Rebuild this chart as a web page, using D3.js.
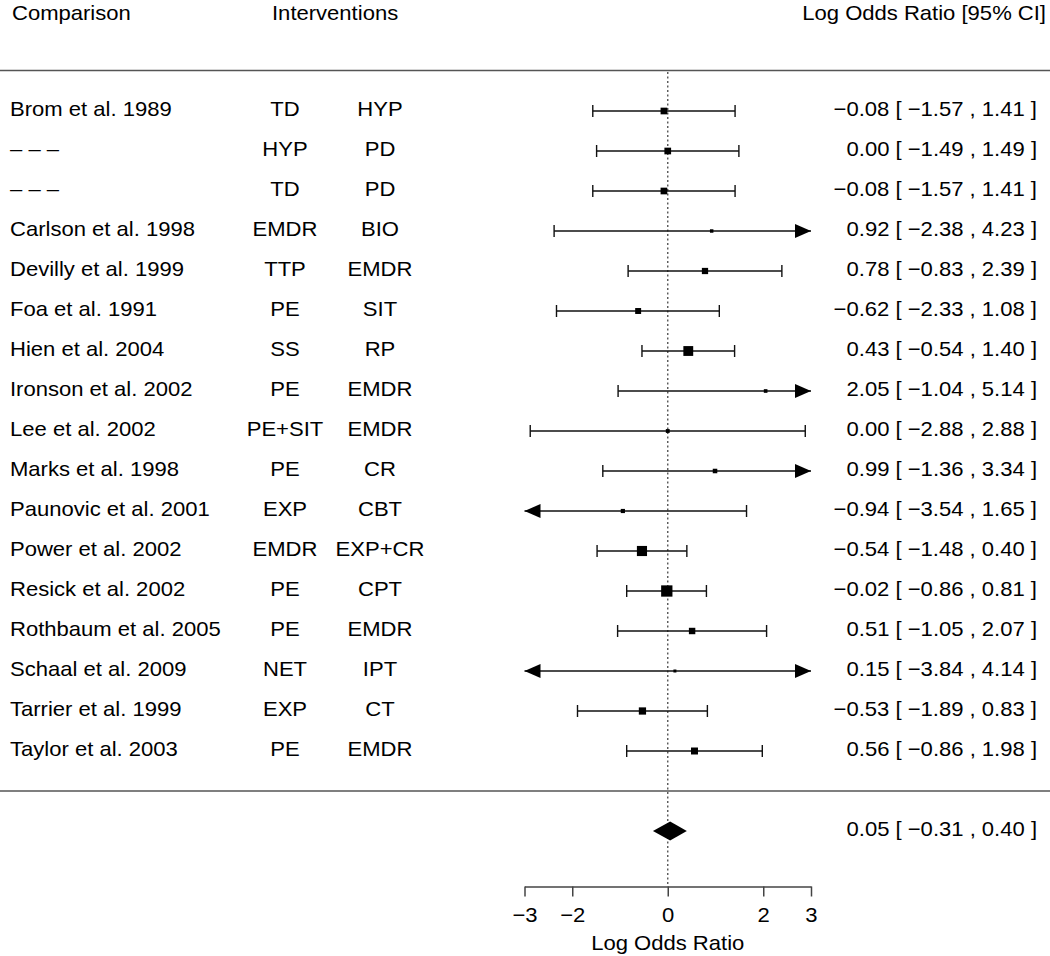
<!DOCTYPE html>
<html>
<head>
<meta charset="utf-8">
<script src="https://cdn.jsdelivr.net/npm/d3@7"></script>
<style>
  html, body { margin: 0; padding: 0; background: #fff; }
  svg { display: block; }
  text { font-family: "Liberation Sans", Arial, Helvetica, sans-serif; fill: #000; }
</style>
</head>
<body>
<svg id="chart" width="1050" height="956"></svg>
<script>
const studies = ["Brom et al. 1989","\u2013 \u2013 \u2013","\u2013 \u2013 \u2013","Carlson et al. 1998","Devilly et al. 1999","Foa et al. 1991","Hien et al. 2004","Ironson et al. 2002","Lee et al. 2002","Marks et al. 1998","Paunovic et al. 2001","Power et al. 2002","Resick et al. 2002","Rothbaum et al. 2005","Schaal et al. 2009","Tarrier et al. 1999","Taylor et al. 2003"];
const treat1 = ["TD","HYP","TD","EMDR","TTP","PE","SS","PE","PE+SIT","PE","EXP","EMDR","PE","PE","NET","EXP","PE"];
const treat2 = ["HYP","PD","PD","BIO","EMDR","SIT","RP","EMDR","EMDR","CR","CBT","EXP+CR","CPT","EMDR","IPT","CT","EMDR"];
const estimates = [-0.08,0.00,-0.08,0.92,0.78,-0.62,0.43,2.05,0.00,0.99,-0.94,-0.54,-0.02,0.51,0.15,-0.53,0.56];
const lowerCI = [-1.57,-1.49,-1.57,-2.38,-0.83,-2.33,-0.54,-1.04,-2.88,-1.36,-3.54,-1.48,-0.86,-1.05,-3.84,-1.89,-0.86];
const upperCI = [1.41,1.49,1.41,4.23,2.39,1.08,1.40,5.14,2.88,3.34,1.65,0.40,0.81,2.07,4.14,0.83,1.98];
const summaryEst = 0.05, summaryLower = -0.31, summaryUpper = 0.40;
const xTicks = [-3,-2,0,2,3];
const headers = ["Comparison","Interventions","Log Odds Ratio [95% CI]"];
const axisTitle = "Log Odds Ratio";

const svg = d3.select("#chart");
const FS = 21, SX = 1.05;
const x = d3.scaleLinear().domain([-3,3]).range([524.5, 811]);
const y = d3.scaleLinear().domain([0, studies.length-1]).range([111, 751]);
const ySummary = 831;
const fmt = v => (v < 0 ? "\u2212" : "") + Math.abs(v).toFixed(2);
const ciText = (e,l,u) => `${fmt(e)} [ ${fmt(l)} , ${fmt(u)} ]`;
const LC = "#111", LW = 1.4;

function addText(g, str, tx, ty, anchor) {
  g.append("text")
    .attr("transform", `translate(${tx},${ty}) scale(${SX},1)`)
    .attr("text-anchor", anchor)
    .style("font-size", FS + "px")
    .text(str);
}

// headers
addText(svg, headers[0], 12, 20, "start");
addText(svg, headers[1], 272, 20, "start");
addText(svg, headers[2], 1046, 20, "end");

// separator lines
svg.append("line").attr("x1",0).attr("x2",1050).attr("y1",70.5).attr("y2",70.5)
  .attr("stroke","#555").attr("stroke-width",1.5);
svg.append("line").attr("x1",0).attr("x2",1050).attr("y1",791).attr("y2",791)
  .attr("stroke","#555").attr("stroke-width",1.5);

// reference line at 0
svg.append("line").attr("x1",x(0)).attr("x2",x(0)).attr("y1",72).attr("y2",886)
  .attr("stroke","#555").attr("stroke-width",1.4).attr("stroke-dasharray","2,2.5");

// weights for squares
const wts = lowerCI.map((l,i) => 3.92/(upperCI[i]-l));
const wMin = d3.min(wts), wMax = d3.max(wts);
const sizeScale = d3.scaleLinear().domain([wMin, wMax]).range([3, 11.3]);

const rows = studies.map((s,i) => ({s, t1: treat1[i], t2: treat2[i], e: estimates[i], l: lowerCI[i], u: upperCI[i], w: wts[i], i}));
const [dMin, dMax] = x.domain();

rows.forEach(r => {
  const g = svg.append("g");
  const yy = y(r.i);
  const lo = Math.max(r.l, dMin), hi = Math.min(r.u, dMax);
  g.append("line").attr("x1", x(lo)).attr("x2", x(hi)).attr("y1", yy).attr("y2", yy)
    .attr("stroke",LC).attr("stroke-width",LW);
  if (r.l < dMin) {
    g.append("path").attr("d", `M${x(dMin)},${yy} L${x(dMin)+16},${yy-7} L${x(dMin)+16},${yy+7} Z`).attr("fill","#000");
  } else {
    g.append("line").attr("x1", x(r.l)).attr("x2", x(r.l)).attr("y1", yy-6).attr("y2", yy+6)
      .attr("stroke",LC).attr("stroke-width",LW);
  }
  if (r.u > dMax) {
    g.append("path").attr("d", `M${x(dMax)},${yy} L${x(dMax)-16},${yy-7} L${x(dMax)-16},${yy+7} Z`).attr("fill","#000");
  } else {
    g.append("line").attr("x1", x(r.u)).attr("x2", x(r.u)).attr("y1", yy-6).attr("y2", yy+6)
      .attr("stroke",LC).attr("stroke-width",LW);
  }
  const sz = sizeScale(r.w);
  g.append("rect").attr("x", x(r.e)-sz/2).attr("y", yy-sz/2).attr("width", sz).attr("height", sz).attr("fill","#000");

  addText(g, r.s, 10, yy+5, "start");
  addText(g, r.t1, 285, yy+5, "middle");
  addText(g, r.t2, 380, yy+5, "middle");
  addText(g, ciText(r.e, r.l, r.u), 1037, yy+5, "end");
});

// summary diamond
svg.append("path")
  .attr("d", `M${x(summaryLower)},${ySummary} L${x(summaryEst)},${ySummary-9.5} L${x(summaryUpper)},${ySummary} L${x(summaryEst)},${ySummary+9.5} Z`)
  .attr("fill","#000");
addText(svg, ciText(summaryEst, summaryLower, summaryUpper), 1037, ySummary+5, "end");

// axis
const axisG = svg.append("g").attr("transform","translate(0,886.5)")
  .call(d3.axisBottom(x).tickValues(xTicks).tickSize(10).tickSizeOuter(0).tickFormat(d => d < 0 ? "\u2212" + Math.abs(d) : String(d)));
axisG.select(".domain").attr("stroke","#444").attr("stroke-width",1.5);
axisG.selectAll(".tick line").attr("stroke","#444").attr("stroke-width",1.5);
axisG.selectAll(".tick text").each(function() {
  d3.select(this).attr("y", null).attr("dy", null)
   .attr("transform", `translate(0,35) scale(${SX},1)`)
   .style("font-size", FS + "px").attr("fill","#000");
});
axisG.attr("font-family", null).attr("font-size", null);
addText(svg, axisTitle, x(0), 950, "middle");
</script>
</body>
</html>
